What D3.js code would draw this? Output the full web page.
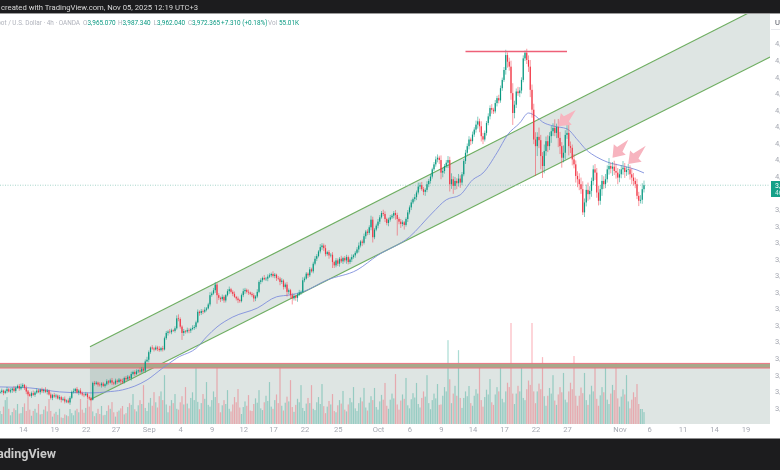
<!DOCTYPE html>
<html>
<head>
<meta charset="utf-8">
<script src="https://cdn.jsdelivr.net/npm/d3@7"></script>
<style>
  html, body { margin: 0; padding: 0; background: #fff; overflow: hidden; }
  svg { display: block; filter: blur(0.35px); font-family: Roboto, sans-serif; }
  .tick text { fill: #a6a9b2; font-size: 7.6px; font-family: Roboto, sans-serif; }
</style>
</head>
<body>
<div id="chart"></div>
<script>
// gold 4h closes
const closes = [
  3348,3352,3345,3350,3356,3349,3353,3358,3351,3360,3366,3358,3364,
  3369,3360,3349,3341,3336,3344,3339,
  3346,3352,3347,3355,3350,3354,3348,3352,
  3340,3330,3338,3334,3337,3328,3332,3324,3327,
  3319,3322,3316,3330,3348,
  3350,3357,3346,3352,3344,3340,
  3338,3342,3332,3328,3324,
  3375,
  3372,3376,3370,3368,3373,3366,3371,3380,3376,
  3383,3376,3373,3382,3378,3385,3380,3377,3390,3386,
  3394,3389,3402,3408,3402,3410,3413,3409,3418,3412,
  3440,
  3445,3468,3482,3479,3476,3482,3478,3474,3480,3476,
  3510,3526,3530,3528,3534,3532,3540,3570,
  3568,3545,3526,3532,3530,3535,3533,3538,3541,
  3544,3558,3590,3586,3592,3590,3596,3600,3612,3640,
  3645,3655,3672,3640,3632,3628,
  3635,3624,3640,3652,3658,3650,3644,3635,3630,
  3625,3622,3640,3652,3656,3650,3648,3644,
  3640,3630,3636,3650,3680,3685,3692,
  3688,3690,3696,3700,3704,3698,3702,3692,3690,3680,
  3684,3665,3672,3650,3655,3640,3630,
  3638,3632,3642,3648,3650,3685,
  3690,3705,3700,3718,3712,3735,3750,3758,3772,3785,3790,
  3782,3764,3770,3760,3762,3740,
  3730,3745,3735,3750,3742,3752,
  3745,3755,3740,3748,3755,3760,
  3768,3778,3790,3802,3798,3818,3832,3828,3845,3868,
  3815,3838,3850,3862,3875,3888,
  3885,3870,3858,3868,3875,3880,3888,
  3882,3870,3862,3855,3860,3852,
  3870,3890,3905,3920,3930,3936,3950,
  3968,3972,3960,3952,3958,3975,3985,
  3998,4020,4035,4050,4055,
  4048,4010,4015,4030,4040,
  4048,3975,
  3990,3970,3985,3978,3992,3980,4005,
  4045,4070,4090,4110,4105,4125,
  4140,4155,4165,4150,4120,4110,
  4130,4160,4180,4205,4200,
  4195,4220,4235,4228,4265,
  4290,4320,4365,4345,
  4330,4250,4190,
  4215,4255,4250,4258,4290,
  4355,4372,4350,4330,
  4260,4200,4110,4090,4118,4108,
  4060,4030,4075,4105,4090,4120,
  4135,4145,4130,4148,4115,4090,
  4055,4070,4124,4130,4090,
  4085,4050,4035,4000,3990,3975,
  3960,3890,3920,3958,3945,
  3955,3985,4020,4010,3950,
  3925,3960,3985,3975,3990,
  4020,4030,4022,4028,4015,4010,
  3995,4005,4020,4025,4012,4018,
  4020,4005,3995,3985,3975,
  3940,3925,3928,3960,3972
];

const wickUp = [
  4,6,3,5,7,4,6,3,8,5,4,6,9,5,3,7,4,6,5,8,
  4,7,5,3,6,4,8,5,3,6,4,7,5,3,6,4,5,7,3,6,
  5,4,8,3,6,4,7,5,3,6,4,5,3,4,6,5,3,7,4,5,
  3,6,4,5,7,3,6,4,5,3,8,4,6,5,3,7,4,5,6,3,
  8,5,4,6,9,5,3,7,4,6,5,8,4,7,5,6,4,8,5,3,
  6,9,12,5,4,6,3,7,5,4,8,6,5,7,4,6,5,8,4,5,
  9,6,7,8,5,6,4,7,5,3,6,8,4,5,7,3,6,4,5,8,
  6,4,7,3,5,6,4,8,5,6,4,9,5,7,6,4,8,5,3,6,
  5,7,4,6,8,5,4,7,6,3,5,8,4,9,6,5,4,7,5,6,
  8,6,4,9,7,6,10,4,6,5,8,4,7,6,5,9,4,6,7,5,
  6,8,4,5,7,9,4,6,8,5,7,6,12,9,5,6,8,7,6,10,
  8,4,6,7,5,6,9,7,5,8,6,4,5,7,6,8,5,9,6,12,
  8,10,7,5,9,6,8,5,7,9,10,6,14,9,6,8,12,10,18,9,
  12,8,14,10,7,6,9,8,10,6,9,7,12,14,8,15,10,7,6,9,
  8,12,6,9,7,10,8,7,9,16,8,12,18,30,12,9,14,10,8,9,
  7,12,14,20,16,18,22,14,28,16,12,20,14,18,12,16,14,26,10,24,
  18,12,22,14,30,26,14,10,16,12,14,18,20,24,12,16,22,14,10,12,
  16,14,20,12,18,14,16,12,24,10,14,18,22,14,16,12,20,14,10,16,
  12,18,14,10,16,12,14,18,14
];

const wickDown = [
  3,5,7,4,6,3,5,8,4,6,3,7,5,4,6,8,5,3,6,4,
  6,4,3,7,5,6,4,8,3,5,7,4,6,3,5,8,4,6,5,3,
  7,4,5,6,3,8,4,5,6,3,7,5,4,2,5,3,6,4,7,3,
  5,4,6,3,7,5,4,6,3,8,5,4,6,3,5,7,4,6,3,5,
  6,4,5,7,3,8,5,4,6,3,7,5,4,6,3,5,8,4,6,3,
  5,4,7,6,21,9,6,5,8,7,4,6,5,3,8,6,7,4,5,3,
  6,5,4,8,26,7,9,5,7,6,4,8,5,7,3,6,9,5,4,6,
  8,5,7,4,6,10,8,5,4,7,6,3,5,8,4,6,5,7,9,5,
  10,6,8,5,14,7,10,18,6,9,12,5,7,4,6,3,8,5,4,6,
  5,7,4,6,8,9,7,5,10,6,18,8,6,7,9,5,8,6,10,7,
  6,8,5,7,4,9,6,10,5,8,7,6,9,16,6,5,8,7,4,6,
  9,7,10,6,5,8,14,50,8,12,7,14,5,9,6,8,5,7,9,6,
  8,5,10,12,7,9,8,6,5,7,9,12,20,14,8,6,16,22,14,24,
  12,18,10,16,8,6,9,7,10,12,8,7,9,12,18,16,14,6,8,7,
  9,12,8,6,10,9,7,8,6,14,18,12,20,36,16,10,8,12,9,7,
  8,12,16,22,24,14,90,30,24,40,36,22,14,18,12,20,14,10,16,28,
  24,30,14,20,12,28,16,18,12,20,24,18,14,8,14,12,20,16,18,12,
  22,16,14,12,20,14,12,10,16,14,22,12,18,20,14,12,16,18,12,14,
  16,20,14,12,10,16,8,12,10
];

// volume in thousands, one row per trading day
const volumes = [
  60,46,80,110,124,70, 40,55,72,64,92,48, 50,78,95,60,156,66, 38,60,70,52,92,44,
  46,66,82,58,115,60, 34,48,56,42,70,30, 28,44,40,36,69,50, 40,62,70,54,115,66,
  52,74,110,80,124,58, 36,50,70,46,83,40, 42,60,86,70,101,54, 34,56,62,72,83,44,
  50,78,96,88,138,68, 58,86,110,92,179,74, 60,98,120,84,147,100, 76,128,150,110,225,90,
  54,84,110,96,138,70, 66,100,128,90,170,94, 72,120,146,110,258,102, 68,96,138,116,193,88,
  80,110,150,124,258,96, 54,86,110,92,156,70, 58,90,124,100,161,76, 46,78,104,84,133,62,
  60,92,118,98,156,72, 64,100,130,106,193,80, 70,110,136,96,271,84, 62,98,126,104,202,78,
  56,88,116,100,179,74, 60,94,120,96,179,70, 64,100,124,92,184,82, 50,80,106,90,138,60,
  54,86,110,94,152,66, 58,90,120,100,170,72, 60,96,122,104,166,76, 62,98,128,110,166,78,
  66,104,134,112,189,84, 70,112,140,118,230,90, 66,108,136,116,212,86, 72,114,142,122,189,92,
  76,120,150,126,225,96, 68,110,140,118,184,88, 90,130,170,150,386,206, 96,140,176,130,340,120,
  74,120,150,128,175,96, 84,130,160,140,258,110, 80,124,158,136,207,100, 88,136,170,150,258,116,
  100,150,190,170,465,140, 92,140,176,150,258,120, 110,160,200,180,465,150, 96,150,186,160,308,128,
  84,130,166,140,225,108, 88,136,170,146,235,112, 100,150,190,160,313,130, 84,130,168,142,235,110,
  88,136,176,150,258,116, 84,132,170,146,258,112, 92,140,180,156,281,118, 80,126,160,136,225,104,
  72,112,146,124,184,92, 69,69,55
];

// blue moving average, read at these bars
const maBars = [0,17,34,49,53,61,70,84,93,101,113,118,124,133,147,158,166,173,187,204,216,234,247,255,263,270,276,284,290,297,302,306,310,316,324,330,335,341,347,356,364,368];
const maPrices = [3363,3360,3348,3345,3345,3348,3354,3384,3420,3450,3484,3514,3544,3574,3601,3635,3641,3650,3686,3716,3761,3816,3888,3928,3943,3988,4009,4070,4124,4160,4190,4181,4163,4151,4142,4109,4079,4057,4042,4030,4018,4009];

const xTickBars = [13,31,49,66,85,103,121,139,156,174,193,216,234,252,270,288,306,324,354,371,390,408,426];
const xTickLabels = ["14","19","22","27","Sep","4","9","12","17","22","25","Oct","6","9","14","17","22","27","Nov","6","11","14","19"];
const priceTicks = [4400,4350,4300,4250,4200,4150,4100,4050,4000,3900,3850,3800,3750,3700,3650,3600,3550,3500,3450,3400,3350,3300];

// channel and zones: [bar, price]
const channelUpper = [[51.4,3484],[440,4525]];
const channelLower = [[51.4,3324],[440,4359]];
const zonePrices = [3434,3420];
const topLine = { from: 266, to: 324, price: 4376 };
// arrows: tail bar, tail price, tip bar, tip price
const arrowTails = [[329,4199],[359,4109],[369,4091]];
const arrowTips = [[319,4150],[350,4055],[359,4036]];

const width = 780, height = 470;
const plotRight = 770, plotTop = 14, plotBottom = 424;

const svg = d3.select("#chart").append("svg")
  .attr("width", width)
  .attr("height", height);

const x = d3.scaleLinear().domain([0, 440]).range([0, plotRight]);
const y = d3.scaleLinear().domain([3251, 4489]).range([plotBottom, plotTop]);
const volY = d3.scaleLinear().domain([0, 465]).range([plotBottom, 323]);

svg.append("defs").append("clipPath").attr("id", "plot")
  .append("rect").attr("width", plotRight).attr("height", plotBottom).attr("y", 0);

const plot = svg.append("g").attr("clip-path", "url(#plot)");

const opens = closes.map((c, i) => i ? closes[i - 1] : 3345);
const upColor = "#089981", downColor = "#f23645";
const barColor = i => closes[i] >= opens[i] ? upColor : downColor;

// grey box under the zone
plot.append("rect")
  .attr("x", x(0)).attr("width", x(440) - x(0))
  .attr("y", y(zonePrices[1])).attr("height", plotBottom - y(zonePrices[1]))
  .attr("fill", "#6f9088").attr("fill-opacity", 0.23);

// channel fill and its two lines
plot.append("polygon")
  .attr("points", [channelUpper[0], channelUpper[1], channelLower[1], channelLower[0]]
    .map(p => x(p[0]) + "," + y(p[1])).join(" "))
  .attr("fill", "#6f9088").attr("fill-opacity", 0.23);

[channelUpper, channelLower].forEach(c => {
  plot.append("line")
    .attr("x1", x(c[0][0])).attr("y1", y(c[0][1]))
    .attr("x2", x(c[1][0])).attr("y2", y(c[1][1]))
    .attr("stroke", "#6fae62").attr("stroke-width", 1.2);
});

// volume
plot.append("g").selectAll("rect")
  .data(volumes)
  .enter().append("rect")
  .attr("x", (d, i) => x(i) - 0.6)
  .attr("width", 1.2)
  .attr("y", d => volY(d))
  .attr("height", d => plotBottom - volY(d))
  .attr("fill", (d, i) => barColor(i))
  .attr("fill-opacity", 0.34);

// zone band
plot.append("rect")
  .attr("x", x(0)).attr("width", x(440) - x(0))
  .attr("y", y(zonePrices[0])).attr("height", y(zonePrices[1]) - y(zonePrices[0]))
  .attr("fill", "#a7a88a");

zonePrices.forEach(p => {
  plot.append("line")
    .attr("x1", x(0)).attr("x2", x(440))
    .attr("y1", y(p)).attr("y2", y(p))
    .attr("stroke", "#ee7482").attr("stroke-width", 1);
});

// last price line
plot.append("line")
  .attr("x1", x(0)).attr("x2", x(440))
  .attr("y1", y(closes[closes.length - 1])).attr("y2", y(closes[closes.length - 1]))
  .attr("stroke", "#8fcabd").attr("stroke-width", 0.8)
  .attr("stroke-dasharray", "1 1.5");

// moving average
const maLine = d3.line()
  .x((d, i) => x(maBars[i]))
  .y(d => y(d))
  .curve(d3.curveMonotoneX);

plot.append("path")
  .attr("d", maLine(maPrices))
  .attr("fill", "none")
  .attr("stroke", "#7f8fdc")
  .attr("stroke-width", 0.9);

// candles
const candles = plot.append("g");
candles.selectAll("line")
  .data(closes)
  .enter().append("line")
  .attr("x1", (d, i) => x(i)).attr("x2", (d, i) => x(i))
  .attr("y1", (d, i) => y(Math.max(d, opens[i]) + wickUp[i]))
  .attr("y2", (d, i) => y(Math.min(d, opens[i]) - wickDown[i]))
  .attr("stroke", (d, i) => barColor(i))
  .attr("stroke-width", 0.5);

candles.selectAll("rect")
  .data(closes)
  .enter().append("rect")
  .attr("x", (d, i) => x(i) - 0.6)
  .attr("width", 1.2)
  .attr("y", (d, i) => y(Math.max(d, opens[i])))
  .attr("height", (d, i) => Math.max(0.6, Math.abs(y(d) - y(opens[i]))))
  .attr("fill", (d, i) => barColor(i));

// red line over the double top
plot.append("line")
  .attr("x1", x(topLine.from)).attr("x2", x(topLine.to))
  .attr("y1", y(topLine.price)).attr("y2", y(topLine.price))
  .attr("stroke", "#ee6078").attr("stroke-width", 1.5);

// pink arrows
arrowTips.forEach((tip, k) => {
  const tx = x(tip[0]), ty = y(tip[1]);
  const sx = x(arrowTails[k][0]), sy = y(arrowTails[k][1]);
  const len = Math.hypot(sx - tx, sy - ty);
  const ux = (sx - tx) / len, uy = (sy - ty) / len;
  const nx = -uy, ny = ux;
  const head = 11, headW = 8, shaft = 3.6;
  const pts = [
    [tx, ty],
    [tx + ux * head + nx * headW, ty + uy * head + ny * headW],
    [tx + ux * head + nx * shaft, ty + uy * head + ny * shaft],
    [sx, sy],
    [tx + ux * head - nx * shaft, ty + uy * head - ny * shaft],
    [tx + ux * head - nx * headW, ty + uy * head - ny * headW]
  ];
  plot.append("polygon")
    .attr("points", pts.map(p => p.join(",")).join(" "))
    .attr("fill", "#f7b4bf");
});

// axes
const xAxis = d3.axisBottom(x)
  .tickValues(xTickBars)
  .tickFormat((d, i) => xTickLabels[i])
  .tickSize(0)
  .tickPadding(3);

svg.append("g")
  .attr("transform", `translate(0,${plotBottom})`)
  .call(xAxis)
  .call(g => g.select(".domain").remove());

const yAxis = d3.axisRight(y)
  .tickValues(priceTicks)
  .tickFormat(d3.format(","))
  .tickSize(0)
  .tickPadding(5);

svg.append("g")
  .attr("transform", `translate(${plotRight},0)`)
  .call(yAxis)
  .call(g => g.select(".domain").remove());

// currency label top right
svg.append("text").attr("x", 775).attr("y", 25)
  .attr("font-size", 7.6).attr("fill", "#50535e").text("USD");
svg.append("line").attr("x1", 771).attr("x2", 780).attr("y1", 29.5).attr("y2", 29.5)
  .attr("stroke", "#e8e9ed");

// last price tag
svg.append("rect").attr("x", 771).attr("y", 181).attr("width", 9).attr("height", 16)
  .attr("fill", "#15a088");
svg.append("text").attr("x", 775).attr("y", 188).attr("font-size", 7)
  .attr("fill", "#fff").text("3,972.365");
svg.append("text").attr("x", 775).attr("y", 195).attr("font-size", 6.5)
  .attr("fill", "#d5f0ea").text("46:12");

// top and bottom dark strips
svg.append("rect").attr("width", width).attr("height", 13).attr("fill", "#1c1c1e");
svg.append("rect").attr("y", 13).attr("width", width).attr("height", 1).attr("fill", "#9b9b9b");
svg.append("rect").attr("y", 438.5).attr("width", width).attr("height", height - 438.5).attr("fill", "#1c1c1e");

svg.append("text").attr("x", 1).attr("y", 10)
  .attr("font-size", 7.7).attr("fill", "#d8d8d8")
  .text("created with TradingView.com, Nov 05, 2025 12:19 UTC+3");

svg.append("text").attr("x", 56).attr("y", 458).attr("text-anchor", "end")
  .attr("font-size", 12.6).attr("font-weight", 700).attr("fill", "#c9c9c9")
  .text("TradingView");

// legend row
svg.append("text").attr("x", 80).attr("y", 24.5).attr("text-anchor", "end")
  .attr("font-size", 6.4).attr("fill", "#b0b3bc")
  .text("Gold Spot / U.S. Dollar · 4h · OANDA");

const legendNames = ["O", "H", "L", "C", "Vol"];
const legendNameX = [83, 118, 153.5, 188, 268];
const legendValues = ["3,965.070", "3,987.340", "3,962.040", "3,972.365", "55.01K"];
const legendValueX = [87.5, 122.5, 157, 192, 279];

legendNames.forEach((n, i) => {
  svg.append("text").attr("x", legendNameX[i]).attr("y", 24.5)
    .attr("font-size", 6.4).attr("fill", "#b0b3bc").text(n);
  svg.append("text").attr("x", legendValueX[i]).attr("y", 24.5)
    .attr("font-size", 6.4).attr("fill", "#089981").text(legendValues[i]);
});

svg.append("text").attr("x", 221).attr("y", 24.5)
  .attr("font-size", 6.4).attr("fill", "#089981").text("+7.310 (+0.18%)");
</script>
</body>
</html>
